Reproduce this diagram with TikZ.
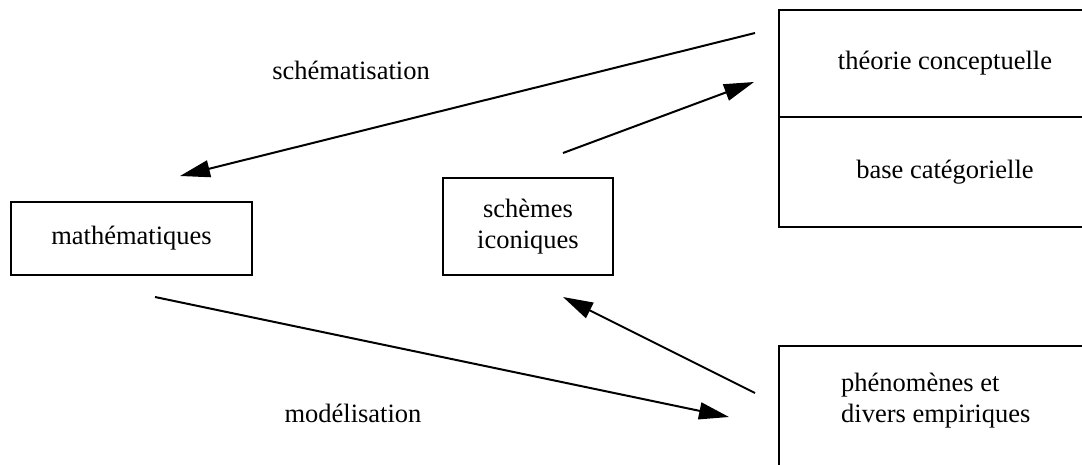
\documentclass[tikz,border=0pt]{standalone}
\usepackage{fontspec}
\setmainfont{Liberation Serif}
\usetikzlibrary{arrows.meta}

\begin{document}
\begin{tikzpicture}[x=1pt,y=-1pt,font=\fontsize{26.5}{31}\selectfont,
    box/.style={draw,line width=2pt,inner sep=0pt,outer sep=0pt},
    fleche/.style={line width=2pt,-{Triangle[length=30pt,width=17pt]}}]
    \useasboundingbox (0,0) rectangle (1082,464);
    \clip (0,0) rectangle (1082,464);
    % boites
    \node[box,minimum width=241pt,minimum height=73pt] (math) at (131.5,238.5) {mathématiques};
    \node[box,minimum width=170pt,minimum height=97pt,align=center] (icon) at (528,226.5) {schèmes\\iconiques};
    \node[box,minimum width=332pt,minimum height=107pt,anchor=north west] (theorie) at (779,10) {théorie conceptuelle};
    \node[box,minimum width=332pt,minimum height=110pt,anchor=north west] (base) at (theorie.south west) {base catégorielle};
    \node[box,minimum width=332pt,minimum height=160pt,anchor=north west] (phen) at (779,346) {};
    \node[align=left,anchor=west,inner sep=0pt] (phentxt) at (841,401) {phénomènes et\\divers empiriques};
    % etiquettes
    \node (schem) at (351,70) {schématisation};
    \node (model) at (353,413) {modélisation};
    % bouts des fleches
    \coordinate (a1) at (755,33);
    \coordinate (b1) at (180,176);
    \coordinate (a2) at (563,153);
    \coordinate (b2) at (754,82);
    \coordinate (a3) at (755,393);
    \coordinate (b3) at (563,297);
    \coordinate (a4) at (155,297);
    \coordinate (b4) at (729,417);
    \draw[fleche] (a1) -- (b1);
    \draw[fleche] (a2) -- (b2);
    \draw[fleche] (a3) -- (b3);
    \draw[fleche] (a4) -- (b4);
\end{tikzpicture}
\end{document}
